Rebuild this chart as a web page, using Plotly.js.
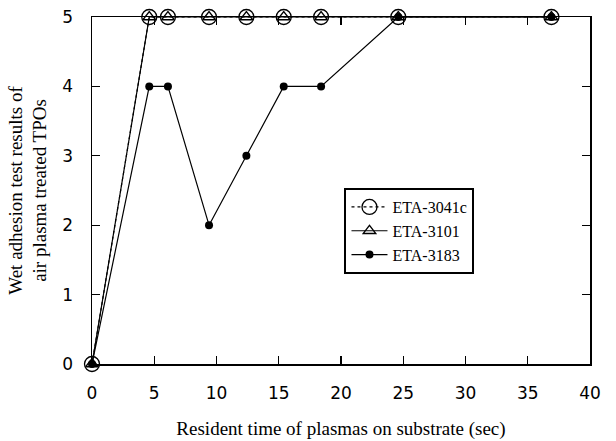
<!DOCTYPE html>
<html>
<head>
<meta charset="utf-8">
<script src="https://cdn.plot.ly/plotly-3.0.1.min.js"></script>
<style>html,body{margin:0;padding:0;background:#fff;}#chart{width:616px;height:441px;}</style>
</head>
<body>
<div id="chart"></div>
<script>
const seriesNames = ["ETA-3041c", "ETA-3101", "ETA-3183"];
const timeSec = [0, 4.6, 6.1, 9.4, 12.4, 15.4, 18.4, 24.6, 36.9];
const eta3041c = [0, 5, 5, 5, 5, 5, 5, 5, 5];
const eta3101 = [0, 5, 5, 5, 5, 5, 5, 5, 5];
const eta3183 = [0, 4, 4, 2, 3, 4, 4, 5, 5];
const xTicks = [0, 5, 10, 15, 20, 25, 30, 35, 40];
const yTicks = [0, 1, 2, 3, 4, 5];

const serif = "'Liberation Serif', 'DejaVu Serif', serif";
const sans = "'DejaVu Sans', 'Liberation Sans', sans-serif";

const traces = [
  {
    x: timeSec, y: eta3041c, name: seriesNames[0], type: 'scatter', mode: 'lines+markers',
    line: {color: '#000', width: 1.2, dash: 'dot'},
    marker: {symbol: 'circle-open', size: 15, color: '#000', line: {width: 1.3, color: '#000'}},
    cliponaxis: false
  },
  {
    x: timeSec, y: eta3101, name: seriesNames[1], type: 'scatter', mode: 'lines+markers',
    line: {color: '#000', width: 1.2},
    marker: {symbol: 'triangle-up-open', size: 11, color: '#000', line: {width: 1.3, color: '#000'}},
    cliponaxis: false
  },
  {
    x: timeSec, y: eta3183, name: seriesNames[2], type: 'scatter', mode: 'lines+markers',
    line: {color: '#000', width: 1.2},
    marker: {symbol: 'circle', size: 8, color: '#000'},
    cliponaxis: false
  }
];

const layout = {
  width: 616, height: 441,
  margin: {l: 92, r: 26, t: 17, b: 77},
  paper_bgcolor: '#fff', plot_bgcolor: '#fff',
  showlegend: true,
  legend: {
    x: 0.507, y: 0.507, xanchor: 'left', yanchor: 'top',
    bordercolor: '#000', borderwidth: 2, bgcolor: '#fff',
    font: {family: serif, size: 16, color: '#000'},
    tracegroupgap: 0, itemwidth: 36
  },
  xaxis: {
    range: [0, 40], tickvals: xTicks, ticktext: xTicks.map(String),
    showgrid: false, zeroline: false, showline: true, linecolor: '#000', linewidth: 1.5,
    mirror: 'ticks', ticks: 'inside', ticklen: 8, tickwidth: 1.2, tickcolor: '#000',
    ticklabelstandoff: 13,
    tickfont: {family: sans, size: 17, color: '#000'},
    automargin: false,
    title: {text: 'Resident time of plasmas on substrate (sec)', font: {family: serif, size: 19, color: '#000'}, standoff: 20}
  },
  yaxis: {
    range: [0, 5], tickvals: yTicks, ticktext: yTicks.map(String),
    showgrid: false, zeroline: false, showline: true, linecolor: '#000', linewidth: 1.5,
    mirror: 'ticks', ticks: 'inside', ticklen: 8, tickwidth: 1.2, tickcolor: '#000',
    ticklabelstandoff: 14,
    tickfont: {family: sans, size: 17, color: '#000'},
    automargin: false,
    title: {text: 'Wet adhesion test results of<br>air plasma treated TPOs', font: {family: serif, size: 19, color: '#000'}, standoff: 10}
  }
};

Plotly.newPlot('chart', traces, layout, {displayModeBar: false, staticPlot: true});
</script>
</body>
</html>
